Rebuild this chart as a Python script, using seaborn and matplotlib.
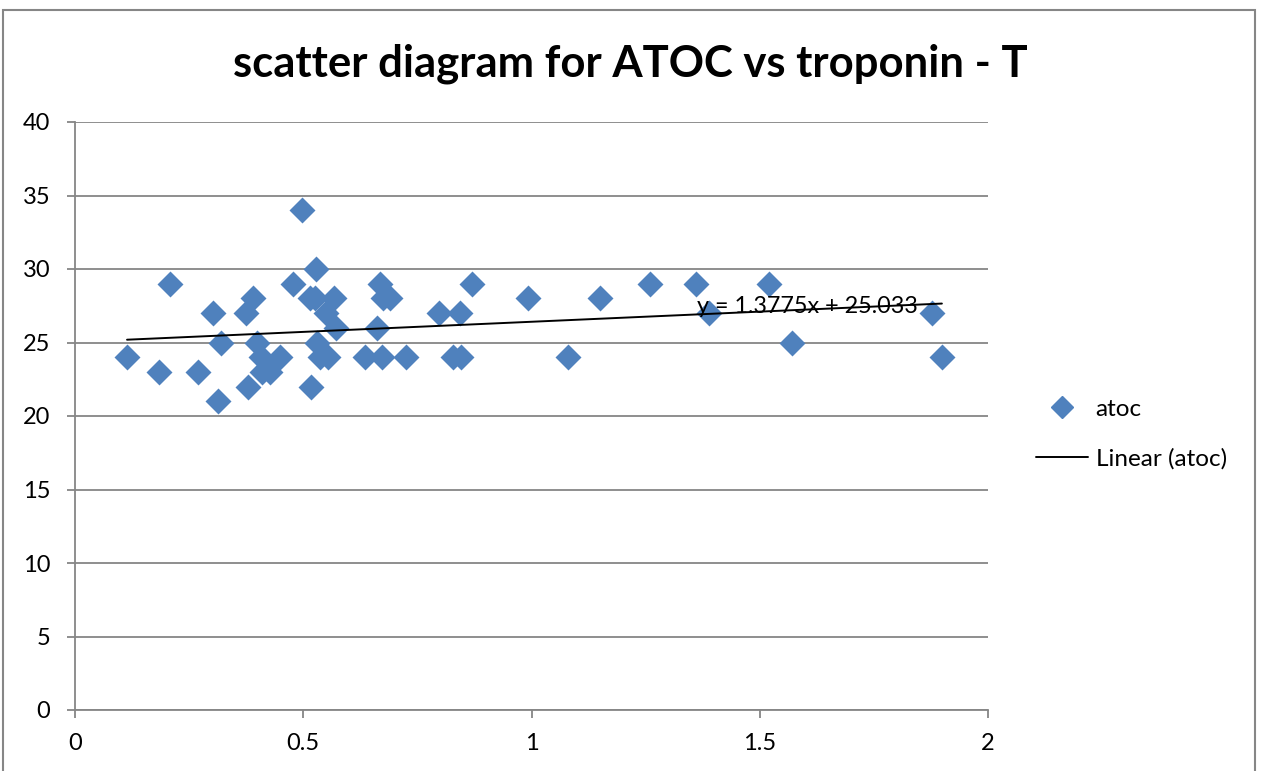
import numpy as np
import pandas as pd
import matplotlib
matplotlib.use("Agg")
import matplotlib.pyplot as plt
from matplotlib.patches import Rectangle
from matplotlib.lines import Line2D
import seaborn as sns

# troponin-T (x) and ATOC (y) measurements
troponin = [0.114, 0.184, 0.208, 0.269, 0.302, 0.313, 0.320, 0.375, 0.379, 0.390,
            0.399, 0.407, 0.410, 0.428, 0.449, 0.478, 0.497, 0.515, 0.517, 0.528,
            0.526, 0.530, 0.537, 0.550, 0.554, 0.567, 0.572, 0.635, 0.661, 0.668,
            0.672, 0.675, 0.690, 0.725, 0.797, 0.828, 0.843, 0.846, 0.870, 0.992,
            1.080, 1.150, 1.260, 1.360, 1.389, 1.520, 1.571, 1.877, 1.899]
atoc = [24, 23, 29, 23, 27, 21, 25, 27, 22, 28,
        25, 24, 23, 23, 24, 29, 34, 28, 22, 30,
        28, 25, 24, 27, 24, 28, 26, 24, 26, 29,
        24, 28, 28, 24, 27, 24, 27, 24, 29, 28,
        24, 28, 29, 29, 27, 29, 25, 27, 24]

# linear trendline coefficients
slope = 1.3775
intercept = 25.033

x_ticks = [0, 0.5, 1, 1.5, 2]
y_ticks = [0, 5, 10, 15, 20, 25, 30, 35, 40]

sns.set_style("white")
plt.rcParams['font.family'] = ['Lato', 'DejaVu Sans']
plt.rcParams['text.color'] = 'black'

BLUE = "#4F81BD"
GRID = "#868686"

df = pd.DataFrame({"troponin": troponin, "atoc": atoc})
x_line = np.array([min(troponin), max(troponin)])
trend = pd.DataFrame({"x": x_line, "y": slope * x_line + intercept})

fig = plt.figure(figsize=(12.61, 7.71), dpi=100)
ax = fig.add_axes([75 / 1261, 1 - 710 / 771, (988 - 75) / 1261, (710 - 122) / 771])

ax.yaxis.grid(True, color=GRID, linewidth=1.3)
ax.set_axisbelow(True)

sns.lineplot(data=trend, x="x", y="y", ax=ax, color="black", linewidth=1.4,
             zorder=4, legend=False)
sns.scatterplot(data=df, x="troponin", y="atoc", ax=ax, marker="D", s=175,
                color=BLUE, edgecolor=BLUE, linewidth=0, zorder=3, legend=False)

ax.set_xlim(0, 2)
ax.set_ylim(0, 40)
ax.set_xticks(x_ticks)
ax.set_xticklabels(["0", "0.5", "1", "1.5", "2"])
ax.set_yticks(y_ticks)
ax.set_xlabel("")
ax.set_ylabel("")
ax.tick_params(axis="both", labelsize=17, labelcolor="black", color=GRID,
               length=5.8, width=1.3, direction="out")
ax.tick_params(axis="x", bottom=True, pad=11)
ax.tick_params(axis="y", left=True, pad=12)

for side in ["top", "right"]:
    ax.spines[side].set_visible(False)
for side in ["left", "bottom"]:
    ax.spines[side].set_color(GRID)
    ax.spines[side].set_linewidth(1.3)

ax.text(1.3625, 27.45, "y = 1.3775x + 25.033", fontsize=16.8, color="black",
        ha="left", va="center", zorder=5)

fig.text(630 / 1261, 1 - 64 / 771, "scatter diagram for ATOC vs troponin - T",
         ha="center", va="center", fontsize=31.4, fontweight="bold", color="black")

handles = [
    Line2D([], [], marker="D", color=BLUE, linestyle="none", markersize=11),
    Line2D([], [], color="black", linewidth=1.4),
]
fig.legend(handles, ["atoc", "Linear (atoc)"], loc="center left",
           bbox_to_anchor=(1036 / 1261, 1 - 434 / 771), frameon=False,
           borderpad=0, borderaxespad=0, fontsize=17.5, handlelength=2.15,
           labelspacing=1.15, handletextpad=0.3)

fig.add_artist(Rectangle((3 / 1261, -0.05), (1255 - 3) / 1261, 1.05 - 10 / 771,
                         transform=fig.transFigure, fill=False,
                         edgecolor=GRID, linewidth=1.5))

fig.savefig("out.png", dpi=100)
